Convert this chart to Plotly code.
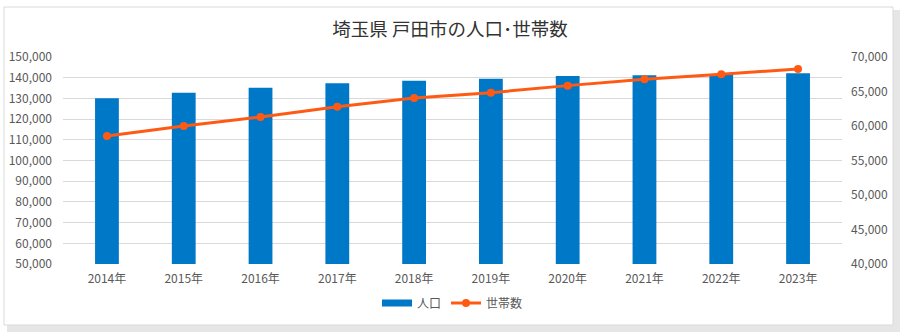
import plotly.graph_objects as go

# 戸田市の人口・世帯数（各年）
years = ["2014年", "2015年", "2016年", "2017年", "2018年",
         "2019年", "2020年", "2021年", "2022年", "2023年"]
population = [130050, 132750, 135170, 137280, 138570,
              139530, 140820, 141150, 141460, 142110]
households = [58550, 60000, 61300, 62800, 64060,
              64830, 65850, 66760, 67490, 68260]

left_ticks = list(range(50000, 150001, 10000))
right_ticks = list(range(40000, 70001, 5000))

FONT = "Noto Sans CJK JP, Meiryo, sans-serif"
BAR_COLOR = "#0078c8"
LINE_COLOR = "#ff5a14"
GRID = "#d9d9d9"
TICK_COLOR = "#595959"

W, H = 900, 332
L, R, T, B = 63, 58, 57, 68
PW, PH = W - L - R, H - T - B


def px_x(px):
    return (px - L) / PW


def px_y(py):
    return (H - B - py) / PH


fig = go.Figure()
fig.add_trace(go.Bar(
    x=years, y=population, name="人口",
    marker=dict(color=BAR_COLOR, line=dict(width=0)),
    width=0.31, yaxis="y", showlegend=False,
))
# legend key for the bars, drawn as a thick short stroke
fig.add_trace(go.Scatter(
    x=[None], y=[None], name="人口", mode="lines",
    line=dict(color=BAR_COLOR, width=7), yaxis="y",
))
fig.add_trace(go.Scatter(
    x=years, y=households, name="世帯数", mode="lines+markers",
    line=dict(color=LINE_COLOR, width=3),
    marker=dict(color=LINE_COLOR, size=8),
    yaxis="y2",
))

fig.update_layout(
    width=W, height=H,
    margin=dict(l=L, r=R, t=T, b=B, autoexpand=False),
    paper_bgcolor="white", plot_bgcolor="white",
    font=dict(family=FONT, size=12, color=TICK_COLOR),
    title=dict(text="埼玉県 戸田市の人口･世帯数", x=0.5, xanchor="center",
               y=1 - 30 / H, yanchor="middle",
               font=dict(family=FONT, size=18.5, color="#333333")),
    xaxis=dict(showgrid=False, showline=False, ticks="", automargin=False,
               ticklabelstandoff=6,
               tickfont=dict(size=12, color=TICK_COLOR)),
    yaxis=dict(range=[50000, 150000], tickvals=left_ticks,
               tickformat=",", showgrid=True, gridcolor=GRID, gridwidth=1,
               zeroline=False, showline=False, ticks="", automargin=False,
               ticklabelstandoff=10,
               tickfont=dict(size=12, color=TICK_COLOR)),
    yaxis2=dict(range=[40000, 70000], tickvals=right_ticks,
                tickformat=",", overlaying="y", side="right",
                showgrid=False, zeroline=False, showline=False, ticks="",
                automargin=False, ticklabelstandoff=8,
                tickfont=dict(size=12, color=TICK_COLOR)),
    legend=dict(orientation="h", x=0.5, xanchor="center",
                y=px_y(303), yanchor="middle",
                font=dict(size=12, color=TICK_COLOR),
                traceorder="normal", bgcolor="rgba(0,0,0,0)"),
    shapes=[
        # soft drop shadow along the right and bottom edges
        dict(type="rect", xref="paper", yref="paper",
             x0=px_x(7), x1=px_x(900), y0=px_y(332), y1=px_y(10),
             fillcolor="#e6e6e6", line=dict(width=0), layer="below"),
        # chart frame
        dict(type="rect", xref="paper", yref="paper",
             x0=px_x(4), x1=px_x(893), y0=px_y(325), y1=px_y(7),
             fillcolor="white", line=dict(color=GRID, width=1),
             layer="below"),
    ],
)

fig.write_html("out.html")
